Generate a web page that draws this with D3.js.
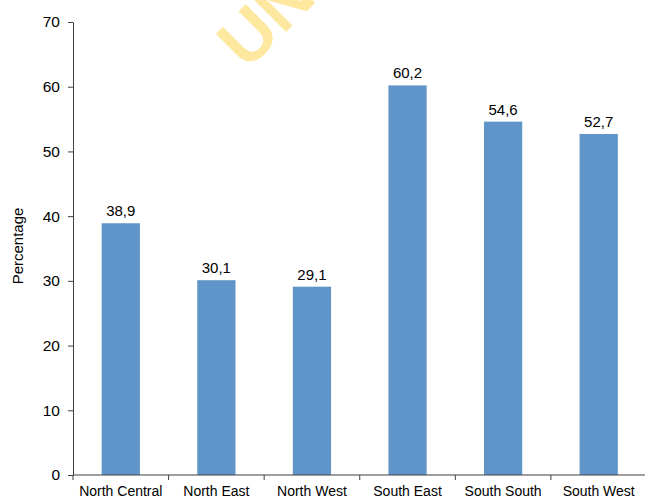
<!DOCTYPE html>
<html>
<head>
<meta charset="utf-8">
<script src="https://cdn.jsdelivr.net/npm/d3@7"></script>
<style>
	body { margin: 0; background: #fff; }
	text { font-family: "Liberation Sans", Arial, sans-serif; }
</style>
</head>
<body>
<div id="vis"></div>
<script>
// data
var regions = ["North Central", "North East", "North West", "South East", "South South", "South West"];
var percentages = [38.9, 30.1, 29.1, 60.2, 54.6, 52.7];
var yTicks = [0, 10, 20, 30, 40, 50, 60, 70];

const BAR_COLOR = "#5f95c8";
const AXIS_COLOR = "#404040";

var width = 645, height = 500;
var svg = d3.select("#vis").append("svg")
	.attr("width", width)
	.attr("height", height);

var x = d3.scaleBand().domain(regions).range([73, 646.5]).paddingInner(0.6).paddingOuter(0.3);
var y = d3.scaleLinear().domain([0, 70]).range([475, 22]);

// watermark behind everything (cut by the top edge, as in the original)
svg.append("text")
	.attr("transform", "translate(247,71) rotate(-45)")
	.attr("fill", "#fee8a0")
	.style("font-size", "70px")
	.style("font-weight", "bold")
	.text("UN");

// bars
svg.selectAll("rect.bar").data(percentages)
	.enter()
	.append("rect")
	.attr("class", "bar")
	.attr("x", function(d, i) { return x(regions[i]); })
	.attr("y", function(d) { return y(d); })
	.attr("width", x.bandwidth())
	.attr("height", function(d) { return y(0) - y(d); })
	.attr("fill", BAR_COLOR);

// value labels, decimal comma
svg.selectAll("text.val").data(percentages)
	.enter()
	.append("text")
	.attr("class", "val")
	.attr("x", function(d, i) { return x(regions[i]) + x.bandwidth() / 2; })
	.attr("y", function(d) { return y(d) - 7; })
	.attr("text-anchor", "middle")
	.style("font-size", "15px")
	.text(function(d) { return d.toFixed(1).replace(".", ","); });

// y axis
var yAxis = svg.append("g")
	.attr("transform", "translate(73,0)")
	.call(d3.axisLeft(y).tickValues(yTicks).tickSize(5).tickSizeOuter(0).tickPadding(8));
yAxis.selectAll("text").style("font-size", "15.5px").attr("fill", "#000")
	.style("font-family", "'Liberation Sans', Arial, sans-serif");
yAxis.selectAll("line, path").attr("stroke", AXIS_COLOR);

// x axis: ticks sit between the categories
var xAxis = svg.append("g").attr("transform", "translate(0," + y(0) + ")");
xAxis.append("line")
	.attr("x1", x.range()[0]).attr("x2", x.range()[1])
	.attr("stroke", AXIS_COLOR);
var step = x.step();
var bounds = regions.map(function(r) { return x(r) - (step - x.bandwidth()) / 2; });
xAxis.selectAll("line.tk").data(bounds)
	.enter()
	.append("line")
	.attr("class", "tk")
	.attr("x1", function(d) { return d; }).attr("x2", function(d) { return d; })
	.attr("y1", 0).attr("y2", 5)
	.attr("stroke", AXIS_COLOR);
xAxis.selectAll("text").data(regions)
	.enter()
	.append("text")
	.attr("x", function(d) { return x(d) + x.bandwidth() / 2; })
	.attr("y", 21)
	.attr("text-anchor", "middle")
	.style("font-size", "14px")
	.text(function(d) { return d; });

// axis title
svg.append("text")
	.attr("transform", "translate(23,246) rotate(-90)")
	.attr("text-anchor", "middle")
	.style("font-size", "15px")
	.text("Percentage");
</script>
</body>
</html>
